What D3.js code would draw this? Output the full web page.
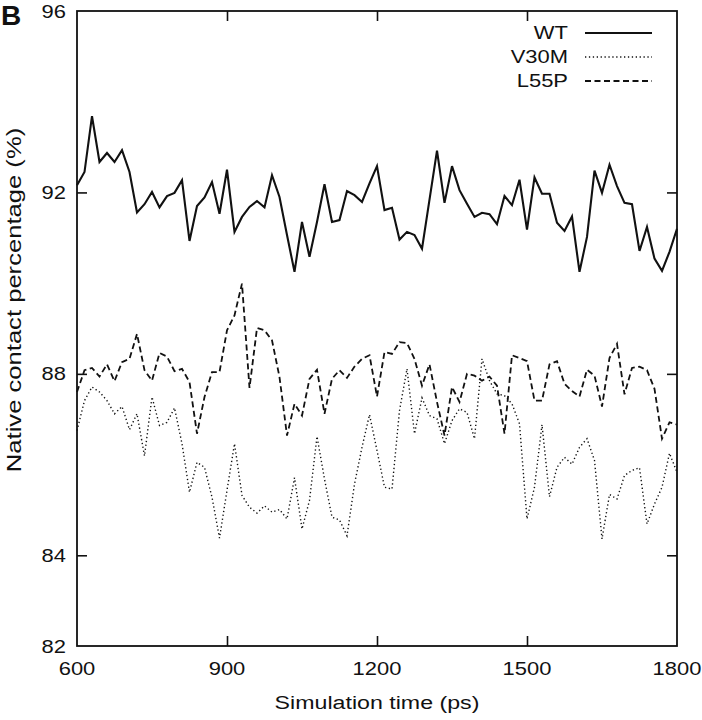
<!DOCTYPE html>
<html>
<head>
<meta charset="utf-8">
<script src="https://cdn.jsdelivr.net/npm/d3@7/dist/d3.min.js"></script>
<style>
  html, body { margin: 0; padding: 0; background: #fff; }
  svg { display: block; }
  text { font-family: "Liberation Sans", Arial, Helvetica, sans-serif; fill: #111; }
</style>
</head>
<body>
<svg id="chart" width="702" height="720"></svg>
<script>
// ---- data ----
const times = [600,615,630,645,660,675,690,705,720,735,750,765,780,795,810,825,840,855,870,885,
  900,915,930,945,960,975,990,1005,1020,1035,1050,1065,1080,1095,1110,1125,1140,1155,1170,1185,
  1200,1215,1230,1245,1260,1275,1290,1305,1320,1335,1350,1365,1380,1395,1410,1425,1440,1455,1470,1485,
  1500,1515,1530,1545,1560,1575,1590,1605,1620,1635,1650,1665,1680,1695,1710,1725,1740,1755,1770,1785,1800];

const wt = [92.16,92.45,93.68,92.67,92.87,92.67,92.93,92.45,91.56,91.74,
  92.01,91.67,91.92,91.99,92.27,90.93,91.70,91.89,92.23,91.53,
  92.50,91.13,91.46,91.68,91.81,91.67,92.38,91.90,91.06,90.25,
  91.35,90.58,91.35,92.18,91.35,91.39,92.03,91.94,91.79,92.20,
  92.58,91.61,91.66,90.96,91.13,91.06,90.76,91.84,92.92,91.77,
  92.58,92.05,91.75,91.46,91.55,91.52,91.30,91.92,91.72,92.28,
  91.18,92.33,91.97,91.97,91.33,91.15,91.47,90.25,91.02,92.48,
  91.99,92.61,92.14,91.77,91.74,90.71,91.24,90.54,90.27,90.69,91.20];

const v30m = [86.75,87.41,87.71,87.60,87.41,87.12,87.28,86.77,87.12,86.19,
  87.49,86.86,86.93,87.25,86.46,85.39,86.05,85.94,85.28,84.38,
  85.43,86.46,85.32,85.06,84.93,85.09,84.95,85.01,84.80,85.71,
  84.58,85.21,86.62,85.68,84.84,84.78,84.43,85.57,86.38,87.10,
  86.31,85.50,85.46,87.19,88.11,86.68,87.47,87.08,87.01,86.46,
  86.97,87.23,87.15,86.57,88.33,87.85,87.56,87.52,87.34,86.90,
  84.80,85.50,86.88,85.29,85.94,86.16,86.01,86.38,86.57,86.09,
  84.36,85.34,85.24,85.76,85.87,85.93,84.69,85.13,85.50,86.25,85.83];

const l55p = [87.60,88.08,88.13,87.94,88.21,87.84,88.26,88.33,88.88,88.08,
  87.85,88.46,88.38,88.06,88.11,87.82,86.68,87.49,88.04,88.04,
  88.96,89.29,89.99,87.69,89.01,88.96,88.74,87.93,86.64,87.34,
  87.08,87.89,88.09,87.12,87.89,88.08,87.91,88.16,88.33,88.41,
  87.50,88.48,88.44,88.70,88.68,88.33,87.74,88.21,87.38,86.64,
  87.71,87.38,88.00,87.96,87.85,87.94,87.74,86.68,88.41,88.35,
  88.28,87.41,87.41,88.21,88.28,87.78,87.62,87.50,88.09,87.96,
  87.28,88.35,88.66,87.55,88.13,88.16,88.08,87.67,86.57,86.93,86.88];

const seriesNames = ["WT", "V30M", "L55P"];
const xTicks = [600, 900, 1200, 1500, 1800];
const yTicks = [82, 84, 88, 92, 96];
const xTitle = "Simulation time (ps)";
const yTitle = "Native contact percentage (%)";
const panelLabel = "B";

// ---- layout ----
const L = 77, R = 677, T = 11, B = 646;
const SX = 1.22; // horizontal glyph stretch of the original typography

const svg = d3.select("#chart");
const x = d3.scaleLinear().domain([600, 1800]).range([L, R]);
const y = d3.scaleLinear().domain([82, 96]).range([B, T]);

const series = [
  { name: seriesNames[0], values: wt,   width: 2.1, dash: null },
  { name: seriesNames[1], values: v30m, width: 1.4, dash: "1.3,2.6" },
  { name: seriesNames[2], values: l55p, width: 1.8, dash: "6,3.5" }
];

const line = d3.line().x((d, i) => x(times[i])).y(d => y(d));

const plot = svg.append("g");
series.forEach(s => {
  plot.append("path")
    .datum(s.values)
    .attr("d", line)
    .attr("fill", "none")
    .attr("stroke", "#111")
    .attr("stroke-width", s.width)
    .attr("stroke-linejoin", "miter")
    .attr("stroke-dasharray", s.dash);
});

// axes with inward ticks
const tickLen = 10;
const inner = [84, 88, 92];
const innerX = [900, 1200, 1500];
const axStyle = g => {
  g.select(".domain").remove();
  g.selectAll("line").attr("stroke", "#111").attr("stroke-width", 1.6);
  g.selectAll("text").remove();
};
svg.append("g").attr("transform", `translate(${L},0)`)
  .call(d3.axisRight(y).tickValues(inner).tickSize(tickLen)).call(axStyle);
svg.append("g").attr("transform", `translate(${R},0)`)
  .call(d3.axisLeft(y).tickValues(inner).tickSize(tickLen)).call(axStyle);
svg.append("g").attr("transform", `translate(0,${B})`)
  .call(d3.axisTop(x).tickValues(innerX).tickSize(tickLen)).call(axStyle);
svg.append("g").attr("transform", `translate(0,${T})`)
  .call(d3.axisBottom(x).tickValues(innerX).tickSize(tickLen)).call(axStyle);

// frame
svg.append("rect")
  .attr("x", L).attr("y", T).attr("width", R - L).attr("height", B - T)
  .attr("fill", "none").attr("stroke", "#111").attr("stroke-width", 1.8);

// tick labels
const yl = svg.append("g");
yTicks.forEach(v => {
  yl.append("text")
    .attr("transform", `translate(66,${y(v) + 6.5}) scale(${SX},1)`)
    .attr("text-anchor", "end")
    .attr("font-size", 18)
    .text(v);
});
const xl = svg.append("g");
xTicks.forEach(v => {
  xl.append("text")
    .attr("transform", `translate(${x(v)},675) scale(${SX},1)`)
    .attr("text-anchor", "middle")
    .attr("font-size", 18)
    .text(v);
});

// axis titles
svg.append("text")
  .attr("transform", `translate(${(L + R) / 2},709) scale(${SX},1)`)
  .attr("text-anchor", "middle")
  .attr("font-size", 19)
  .text(xTitle);
svg.append("text")
  .attr("transform", `translate(21,300) rotate(-90) scale(${SX},1)`)
  .attr("text-anchor", "middle")
  .attr("font-size", 21)
  .text(yTitle);

// panel label
svg.append("text")
  .attr("x", 1).attr("y", 25)
  .attr("font-size", 28).attr("font-weight", "bold")
  .text(panelLabel);

// legend
const legY = [33, 57, 81];
series.forEach((s, i) => {
  svg.append("text")
    .attr("transform", `translate(568,${legY[i] + 6}) scale(${SX},1)`)
    .attr("text-anchor", "end")
    .attr("font-size", 18)
    .text(s.name);
  svg.append("line")
    .attr("x1", 585).attr("x2", 652)
    .attr("y1", legY[i]).attr("y2", legY[i])
    .attr("stroke", "#111")
    .attr("stroke-width", s.width)
    .attr("stroke-dasharray", s.dash);
});
</script>
</body>
</html>
